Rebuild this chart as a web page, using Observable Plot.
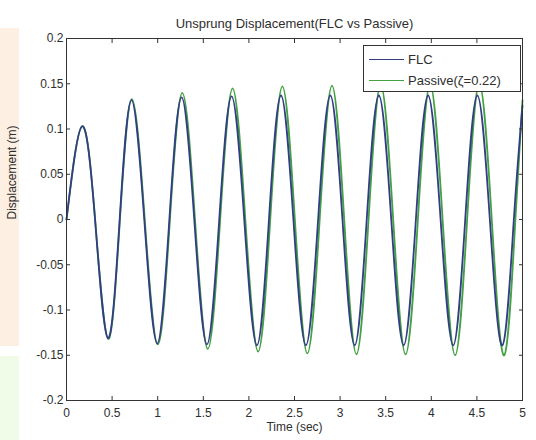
<!DOCTYPE html>
<html><head><meta charset="utf-8">
<script src="https://cdn.jsdelivr.net/npm/d3@7"></script>
<script src="https://cdn.jsdelivr.net/npm/@observablehq/plot@0.6"></script>
<style>
body{margin:0;background:#fff;}
#wrap{position:relative;width:536px;height:440px;overflow:hidden;font-family:"Liberation Sans",Arial,sans-serif;}
#wrap svg{position:absolute;left:0;top:0;}
.strip{position:absolute;left:0;width:19px;}
#legend{position:absolute;left:363px;top:45px;width:158px;height:47px;background:#fff;border:1px solid #333;box-sizing:border-box;font-size:13px;color:#2e2e2e;}
.row{position:absolute;left:5px;display:flex;align-items:center;height:14px;white-space:nowrap;}
.sw{display:inline-block;width:35px;height:0;border-top:1.6px solid;margin-right:4px;}
</style></head>
<body><div id="wrap">
<div class="strip" style="top:28px;height:318px;background:#fdf0e3;"></div>
<div class="strip" style="top:356px;height:84px;background:#f0fbe8;"></div>
</div>
<script>
const titleText = "Unsprung Displacement(FLC vs Passive)";
const xLabel = "Time (sec)";
const yLabel = "Displacement (m)";
const seriesNames = ["FLC", "Passive(ζ=0.22)"];
const seriesColors = ["#323e84", "#43a043"];
const xTicks = [0, 0.5, 1, 1.5, 2, 2.5, 3, 3.5, 4, 4.5, 5];
const yTicks = [-0.2, -0.15, -0.1, -0.05, 0, 0.05, 0.1, 0.15, 0.2];

// FLC: key points (start, peaks, zero crossings, troughs)
const flcTime = [0, 0.172, 0.313, 0.455, 0.583, 0.712, 0.853, 0.995, 1.128, 1.262, 1.401, 1.540, 1.675, 1.810, 1.949, 2.088, 2.220, 2.352, 2.488, 2.625, 2.759, 2.893, 3.026, 3.160, 3.292, 3.425, 3.561, 3.697, 3.831, 3.965, 4.102, 4.240, 4.372, 4.505, 4.642, 4.780, 4.905, 5.0];
const flcDisp = [0, 0.103, 0, -0.131, 0, 0.132, 0, -0.137, 0, 0.135, 0, -0.138, 0, 0.136, 0, -0.139, 0, 0.137, 0, -0.139, 0, 0.137, 0, -0.139, 0, 0.137, 0, -0.139, 0, 0.137, 0, -0.139, 0, 0.137, 0, -0.139, 0, 0.126];

// Passive (zeta = 0.22)
const passiveTime = [0, 0.172, 0.314, 0.457, 0.586, 0.716, 0.858, 1.000, 1.134, 1.269, 1.409, 1.549, 1.685, 1.821, 1.961, 2.101, 2.234, 2.367, 2.504, 2.641, 2.776, 2.911, 3.045, 3.179, 3.312, 3.445, 3.582, 3.718, 3.853, 3.987, 4.124, 4.261, 4.393, 4.526, 4.663, 4.800, 4.922, 5.0];
const passiveDisp = [0, 0.103, 0, -0.132, 0, 0.133, 0, -0.138, 0, 0.140, 0, -0.143, 0, 0.145, 0, -0.146, 0, 0.147, 0, -0.148, 0, 0.148, 0, -0.149, 0, 0.149, 0, -0.149, 0, 0.149, 0, -0.150, 0, 0.150, 0, -0.150, 0, 0.132];

const flc = flcTime.map((t, i) => ({t, v: flcDisp[i]}));
const passive = passiveTime.map((t, i) => ({t, v: passiveDisp[i]}));

const ink = "#2e2e2e";
const chart = Plot.plot({
  width: 536, height: 440,
  marginLeft: 66, marginRight: 14, marginTop: 38, marginBottom: 40,
  style: {fontFamily: "Liberation Sans, Arial, sans-serif", fontSize: "12px", color: ink, background: "transparent", overflow: "visible"},
  x: {domain: [0, 5]},
  y: {domain: [-0.2, 0.2]},
  marks: [
    Plot.line(passive, {x: "t", y: "v", curve: "natural", stroke: seriesColors[1], strokeWidth: 1.8}),
    Plot.line(flc, {x: "t", y: "v", curve: "natural", stroke: seriesColors[0], strokeWidth: 1.8}),
    Plot.frame({stroke: "#333", strokeWidth: 1}),
    Plot.axisX({anchor: "bottom", ticks: xTicks, tickSize: -4, tickPadding: 12, tickFormat: d => String(d), label: null, stroke: "#333", fontSize: 12}),
    Plot.axisX({anchor: "top", ticks: xTicks, tickSize: -4, tickFormat: () => "", label: null, stroke: "#333"}),
    Plot.axisY({anchor: "left", ticks: yTicks, tickSize: -4, tickPadding: 7, tickFormat: d => String(d), label: null, stroke: "#333", fontSize: 12}),
    Plot.axisY({anchor: "right", ticks: yTicks, tickSize: -4, tickFormat: () => "", label: null, stroke: "#333"}),
    Plot.text([titleText], {text: d => d, frameAnchor: "top", dy: -20, fontSize: 13, fill: ink}),
    Plot.text([xLabel], {text: d => d, frameAnchor: "bottom", dy: 30, fontSize: 12, fill: ink}),
    Plot.text([yLabel], {text: d => d, frameAnchor: "left", dx: -54, rotate: -90, fontSize: 12, fill: ink})
  ]
});
const wrap = document.getElementById("wrap");
wrap.appendChild(chart);

const legend = document.createElement("div");
legend.id = "legend";
seriesNames.forEach((name, i) => {
  const row = document.createElement("div");
  row.className = "row";
  row.style.top = (i === 0 ? 6 : 27) + "px";
  const sw = document.createElement("span");
  sw.className = "sw";
  sw.style.borderTopColor = seriesColors[i];
  const tx = document.createElement("span");
  tx.textContent = name;
  row.appendChild(sw); row.appendChild(tx);
  legend.appendChild(row);
});
wrap.appendChild(legend);
</script>
</body></html>
